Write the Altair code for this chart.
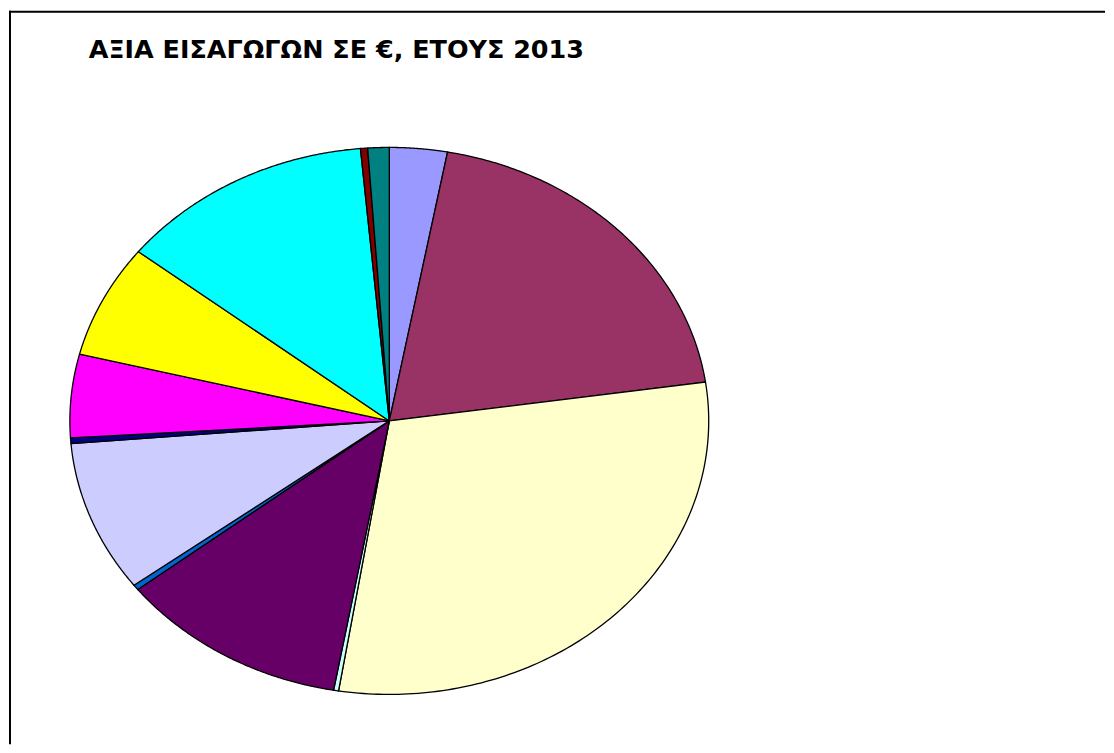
import altair as alt
import pandas as pd

# Slice data (clockwise from 12 o'clock), share of import value in %
categories = ["Κατηγορία 1", "Κατηγορία 2", "Κατηγορία 3", "Κατηγορία 4", "Κατηγορία 5",
              "Κατηγορία 6", "Κατηγορία 7", "Κατηγορία 8", "Κατηγορία 9", "Κατηγορία 10",
              "Κατηγορία 11", "Κατηγορία 12", "Κατηγορία 13"]
values = [2.92, 19.81, 29.81, 0.25, 11.64, 0.31, 8.94, 0.33, 4.92, 6.69, 12.94, 0.36, 1.08]
colors = ["#9999FF", "#993366", "#FFFFCC", "#CCFFFF", "#660066", "#0066CC", "#CCCCFF",
          "#000080", "#FF00FF", "#FFFF00", "#00FFFF", "#800000", "#008080"]
title_text = "ΑΞΙΑ ΕΙΣΑΓΩΓΩΝ ΣΕ €, ΕΤΟΥΣ 2013"

N = 120

df = pd.DataFrame({"cat": categories, "value": values, "ord": list(range(len(values)))})

W, H = 1098, 737

pie = alt.Chart(df).transform_window(
    cum="sum(value)", sort=[alt.SortField("ord")]
).transform_joinaggregate(
    total="sum(value)"
).transform_calculate(
    a1="2*PI*(datum.cum - datum.value)/datum.total",
    a2="2*PI*datum.cum/datum.total",
    idx=f"sequence(0, {N + 3})"
).transform_flatten(
    ["idx"]
).transform_calculate(
    ang=f"datum.a1 + (datum.a2 - datum.a1) * clamp((datum.idx - 1) / {N}, 0, 1)",
    edge=f"(datum.idx == 0 || datum.idx == {N + 2}) ? 0 : 1"
).transform_calculate(
    px="datum.edge * sin(datum.ang)",
    py="datum.edge * cos(datum.ang)"
).mark_line(stroke="black", strokeWidth=1.3, strokeJoin="miter").encode(
    x=alt.X("px:Q", scale=alt.Scale(domain=[-1, 1], range=[61, 701]), axis=None),
    y=alt.Y("py:Q", scale=alt.Scale(domain=[-1, 1], range=[687, 139]), axis=None),
    fill=alt.Fill("cat:N", scale=alt.Scale(domain=categories, range=colors), legend=None),
    detail="cat:N",
    order=alt.Order("idx:Q"),
)

title = alt.Chart(pd.DataFrame({"t": [title_text]})).mark_text(
    font="DejaVu Sans", fontWeight="bold", fontSize=25.5, align="left", baseline="alphabetic",
    color="black"
).encode(x=alt.value(80), y=alt.value(49), text="t:N")

top_rule = alt.Chart(pd.DataFrame({"k": [0]})).mark_rule(color="black", strokeWidth=2).encode(
    x=alt.value(0), x2=alt.value(W), y=alt.value(3)
)
left_rule = alt.Chart(pd.DataFrame({"k": [0]})).mark_rule(color="black", strokeWidth=2).encode(
    x=alt.value(1), y=alt.value(2), y2=alt.value(H)
)

chart = alt.layer(pie, title, top_rule, left_rule).properties(
    width=W, height=H, padding=0
).configure_view(stroke=None)

chart.save("out.html", embed_options={"renderer": "svg", "actions": False})
